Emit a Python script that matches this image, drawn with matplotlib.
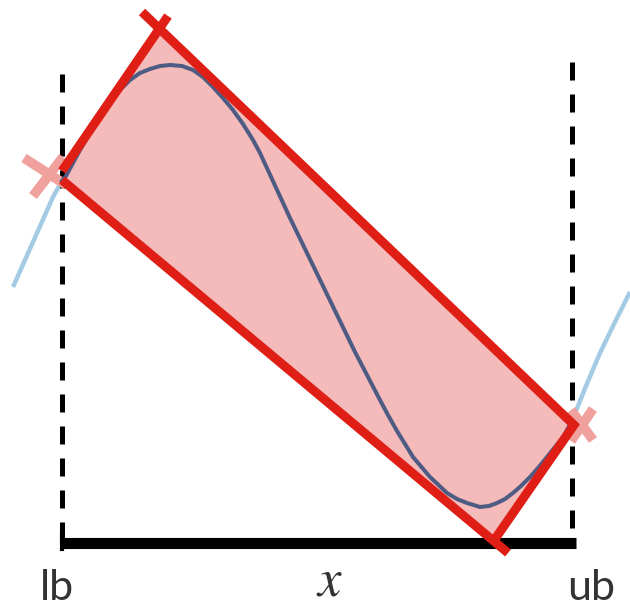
import numpy as np
import matplotlib
matplotlib.use("Agg")
from matplotlib import pyplot as plt

# curve (pixel coords, y downwards)
curve_x = [13, 33, 53, 62, 66, 80, 90, 100, 110, 120, 130, 140, 150, 160, 170, 182,
           193, 203, 213, 223, 233, 243, 253, 260, 290, 323, 355, 380, 388, 397, 413,
           430, 447, 457, 467, 480, 489, 497, 505, 513, 521, 530, 538, 547, 555, 563,
           572, 586, 600, 615, 630]
curve_y = [287, 242, 197, 181, 176, 150, 133, 117, 103, 90, 80, 73, 69, 66, 65, 66,
           70, 77, 87, 98, 110, 124, 140, 153, 218, 286, 352, 400, 415, 431, 457,
           477, 493, 499, 503, 507, 506, 503, 499, 493, 486, 477, 468, 457, 447, 437,
           421, 386, 353, 322, 292]

lb, ub = 62, 572
bar_y = 543

# box corners (fill) and red edges
box_x = [63, 160, 572, 493]
box_y = [178, 33, 425, 535]
edges = [
    ([62, 168], [171, 16]),
    ([142, 574, 495], [12, 425, 539]),
    ([62, 508], [180, 553]),
]
# pink crosses at the bounds
cross = [
    ([24, 66], [158, 185]), ([33, 63], [196, 157]),
    ([593, 571], [409, 441]), ([593, 571], [440, 410]),
]

RED = '#df1f16'
PINK = '#f5baba'
CROSS = '#f0a19d'
LIGHT = '#a3cbe4'
DARK = '#4e5c84'
TXT = '#333333'

fig = plt.figure(figsize=(6.3, 6.07), dpi=100)
ax = fig.add_axes([0, 0, 1, 1])
ax.set_xlim(0, 630)
ax.set_ylim(607, 0)
ax.axis('off')

cx = np.array(curve_x)
cy = np.array(curve_y)
ax.plot(cx, cy, color=LIGHT, lw=3.2, zorder=1, solid_capstyle='butt')

# dashed bounds
ax.plot([lb, lb], [74, bar_y], color='k', lw=3.6, ls=(0, (3.6, 2.8)), zorder=2)
ax.plot([ub, ub], [62, bar_y], color='k', lw=3.6, ls=(0, (3.6, 2.8)), zorder=2)

for xs, ys in cross:
    ax.plot(xs, ys, color=CROSS, lw=7, solid_capstyle='butt', zorder=3)

ax.fill(box_x, box_y, color=PINK, lw=0, zorder=4)

inside = (cx >= lb) & (cx <= ub)
ax.plot(cx[inside], cy[inside], color=DARK, lw=2.9, zorder=5)

ax.plot([60, 576], [bar_y, bar_y], color='k', lw=8, solid_capstyle='butt', zorder=6)
ax.plot([61.5, 61.5], [532, 549], color='k', lw=3, zorder=6)

for xs, ys in edges:
    ax.plot(xs, ys, color=RED, lw=6.5, solid_capstyle='butt',
            solid_joinstyle='miter', zorder=7)

ax.text(57, 600, 'lb', fontsize=31, family='Lato', color=TXT, ha='center', va='baseline')
ax.text(591, 600, 'ub', fontsize=31, family='Lato', color=TXT, ha='center', va='baseline')
plt.rcParams['mathtext.fontset'] = 'stix'
ax.text(330, 596, '$x$', fontsize=38, color=TXT, ha='center', va='baseline')

fig.savefig('out.png', dpi=100)
